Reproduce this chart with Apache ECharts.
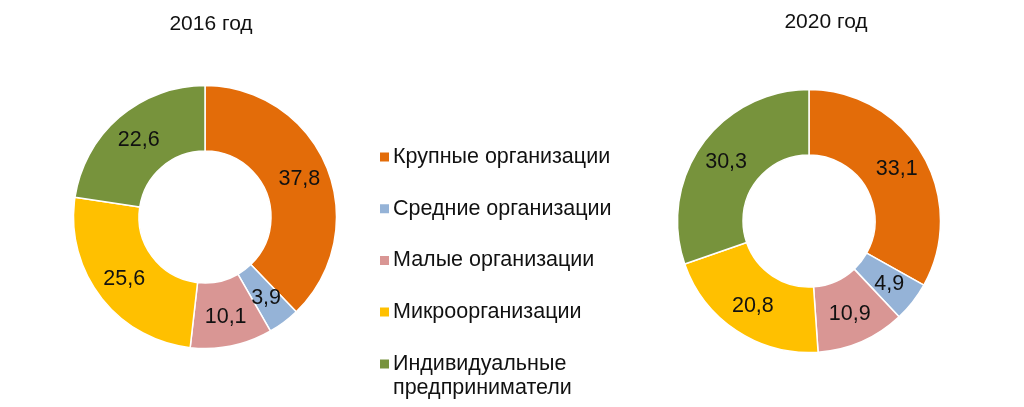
<!DOCTYPE html>
<html><head><meta charset="utf-8">
<script src="https://cdn.jsdelivr.net/npm/echarts@6/dist/echarts.min.js"></script>
<style>html,body{margin:0;padding:0;background:#fff}#c{width:1024px;height:407px}</style>
</head><body><div id="c"></div>
<script>
const categories = ['Крупные организации','Средние организации','Малые организации','Микроорганизации','Индивидуальные предприниматели'];
const values2016 = [37.8, 3.9, 10.1, 25.6, 22.6];
const values2020 = [33.1, 4.9, 10.9, 20.8, 30.3];
const titles = ['2016 год', '2020 год'];
const colors = ['#E36C09', '#95B3D7', '#D99694', '#FFC000', '#77933C'];

const font = 'Liberation Sans, Arial, sans-serif';
const chart = echarts.init(document.getElementById('c'));
function mk(vals, center) {
  return {
    type: 'pie', radius: [66, 131.5], center: center, startAngle: 90, clockwise: true,
    avoidLabelOverlap: false, animation: false,
    itemStyle: { borderColor: '#fff', borderWidth: 1.5 },
    label: { show: true, position: 'inside', color: '#111', fontSize: 21.5, fontFamily: font,
      formatter: p => p.value.toFixed(1).replace('.', ',') },
    labelLine: { show: false },
    emphasis: { disabled: true },
    data: categories.map((c, i) => ({ name: c, value: vals[i] }))
  };
}
chart.setOption({
  color: colors,
  animation: false,
  title: [
    { text: titles[0], left: 211, top: 14, textAlign: 'center', padding: 0,
      textStyle: { fontFamily: font, fontSize: 21, fontWeight: 'normal', color: '#111' } },
    { text: titles[1], left: 826, top: 12, textAlign: 'center', padding: 0,
      textStyle: { fontFamily: font, fontSize: 21, fontWeight: 'normal', color: '#111' } }
  ],
  legend: [
    { orient: 'vertical', left: 378, top: 145, padding: 0, itemGap: 27.7,
      itemWidth: 11, itemHeight: 11, icon: 'rect', selectedMode: false,
      data: categories.slice(0, 4),
      textStyle: { fontFamily: font, fontSize: 21.5, color: '#111', lineHeight: 24, padding: [0,0,0,-2] } },
    { orient: 'vertical', left: 378, top: 328, padding: 0,
      itemWidth: 11, itemHeight: 11, icon: 'rect', selectedMode: false,
      data: categories.slice(4),
      formatter: n => '\n' + n.replace(' ', '\n'),
      textStyle: { fontFamily: font, fontSize: 21.5, color: '#111', lineHeight: 24, padding: [0,0,0,-2] } }
  ],
  series: [ mk(values2016, [205, 217]), mk(values2020, [809, 221]) ]
});
</script></body></html>
